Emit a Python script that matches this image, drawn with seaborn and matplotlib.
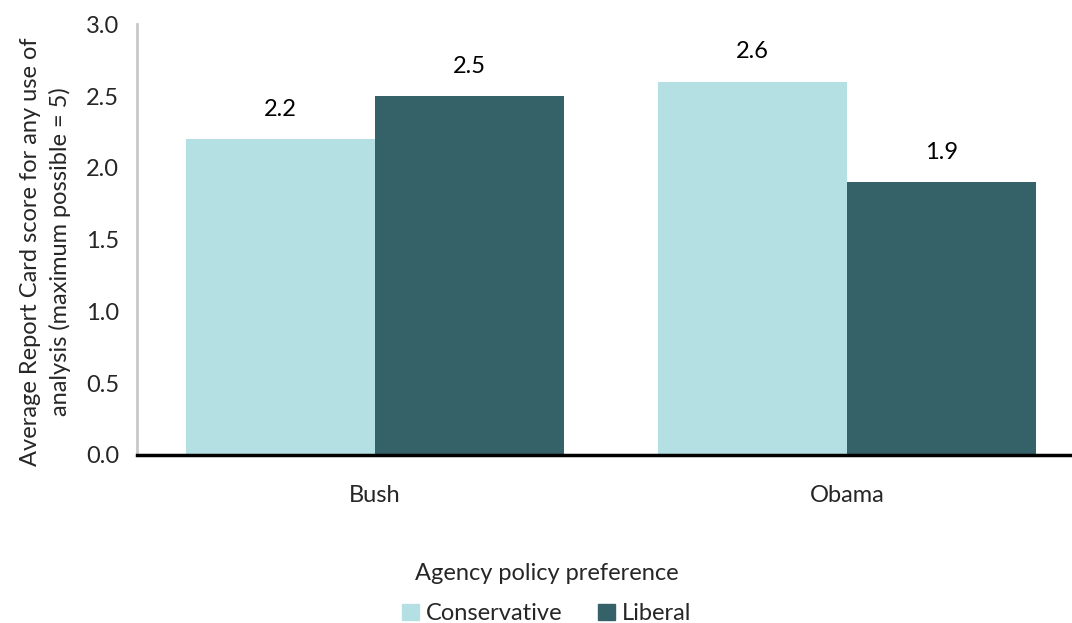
import matplotlib
matplotlib.use("Agg")
import matplotlib.pyplot as plt
import seaborn as sns
import pandas as pd

presidents = ["Bush", "Obama"]
preferences = ["Conservative", "Liberal"]
conservative = [2.2, 2.6]
liberal = [2.5, 1.9]
yticks = [0.0, 0.5, 1.0, 1.5, 2.0, 2.5, 3.0]

df = pd.DataFrame({
    "President": presidents * 2,
    "Preference": [preferences[0]] * 2 + [preferences[1]] * 2,
    "Score": conservative + liberal,
})

sns.set_style("white")
plt.rcParams['font.family'] = ['Lato', 'DejaVu Sans']

FS = 17
fig = plt.figure(figsize=(10.72, 6.23), dpi=100)
ax = fig.add_axes([0.128, 0.270, 0.872, 0.691])
palette = {"Conservative": "#B4E0E3", "Liberal": "#356168"}
sns.barplot(data=df, x="President", y="Score", hue="Preference",
            order=presidents, hue_order=preferences, palette=palette,
            width=0.8, saturation=1, ax=ax, errorbar=None, linewidth=0)

for cont in ax.containers:
    ax.bar_label(cont, fmt="%.1f", padding=14, fontsize=FS, color="#000000")

ax.set_ylim(0, 3.0)
ax.set_xlim(-0.504, 1.477)
ax.set_yticks(yticks)
ax.set_yticklabels([f"{v:.1f}" for v in yticks], fontsize=FS)
ax.tick_params(axis="y", length=7, width=2, color="#C8C8C8", pad=6)
ax.tick_params(axis="x", length=0, labelsize=FS, pad=22)
ax.set_xlabel("")
ax.set_ylabel("Average Report Card score for any use of\nanalysis (maximum possible = 5)",
              fontsize=FS, linespacing=1.45)
ax.yaxis.set_label_coords(-0.071, 0.472)
for s in ["top", "right"]:
    ax.spines[s].set_visible(False)
ax.spines["left"].set_color("#C8C8C8")
ax.spines["left"].set_linewidth(2)
ax.spines["bottom"].set_color("black")
ax.spines["bottom"].set_linewidth(2.5)

ax.get_legend().remove()
handles = [plt.Rectangle((0, 0), 1, 1, color=palette[p]) for p in preferences]
fig.legend(handles, preferences, title="Agency policy preference",
           loc="center", bbox_to_anchor=(0.51, 0.047), ncol=2, frameon=False,
           fontsize=FS, title_fontsize=FS, handlelength=0.7, handleheight=0.7,
           handletextpad=0.3, columnspacing=1.5, labelspacing=0.3)
fig.legends[0]._legend_box.sep = 14

fig.savefig("out.png", dpi=100)
